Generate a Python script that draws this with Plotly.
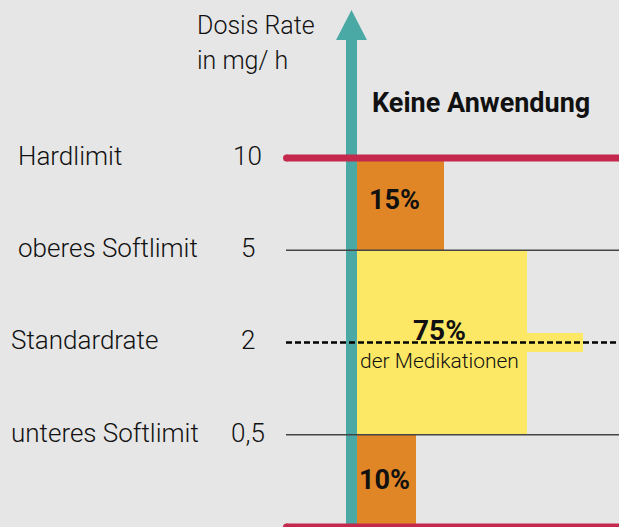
import plotly.graph_objects as go

# ---------------- data ----------------
level_names = ["Hardlimit", "oberes Softlimit", "Standardrate", "unteres Softlimit"]
level_values = ["10", "5", "2", "0,5"]
level_index = [4, 3, 2, 1]          # evenly spaced rate levels (0 = bottom limit)
hard_limits = [4, 0]                # red hard-limit lines
soft_limits = [3, 1]                # thin soft-limit lines
standard_level = 2                  # dashed standard rate

band_labels = ["15%", "75%", "10%"]
band_low = [3, 1, 0]
band_high = [4, 3, 1]
band_length = [33.2, 64.9, 22.5]
band_colors = ["#e08627", "#fde865", "#e08627"]

std_highlight_start = 64.9
std_highlight_end = 86.3
std_highlight_height = 0.21

# ---------------- styles ----------------
BG = "#e6e6e6"
TEAL = "#4aa9a4"
RED = "#c4284c"
W, H = 619, 527
XMIN, XMAX = -136.26, 100.0
YMIN, YMAX = 0.0, 5.712
FONT = "Roboto, 'Liberation Sans', Arial, sans-serif"

def px_x(px):
    return px / W

def px_y(py):
    return 1 - py / H

fig = go.Figure()

# bands
for lab, lo, hi, ln, col in zip(band_labels, band_low, band_high, band_length, band_colors):
    fig.add_trace(go.Bar(
        orientation="h", y=[(lo + hi) / 2], x=[ln], width=[hi - lo], base=0,
        marker=dict(color=col, line=dict(width=0)), hoverinfo="skip", showlegend=False))

# standard-rate highlight
fig.add_trace(go.Bar(
    orientation="h", y=[standard_level], x=[std_highlight_end - std_highlight_start],
    base=std_highlight_start, width=[std_highlight_height],
    marker=dict(color="#fde865", line=dict(width=0)), hoverinfo="skip", showlegend=False))

line_start = -26.9
# soft limits
for lv in soft_limits:
    fig.add_trace(go.Scatter(x=[-27.1, XMAX], y=[lv, lv], mode="lines",
                             line=dict(color="#454545", width=1.5),
                             hoverinfo="skip", showlegend=False))
# standard rate dashed
fig.add_trace(go.Scatter(x=[-27.1, XMAX], y=[standard_level] * 2, mode="lines",
                         line=dict(color="#000000", width=2.4, dash="6px,3px"),
                         hoverinfo="skip", showlegend=False))
# hard limits
for lv in hard_limits:
    fig.add_trace(go.Scatter(x=[line_start, XMAX], y=[lv, lv], mode="lines",
                             line=dict(color=RED, width=7),
                             hoverinfo="skip", showlegend=False))
    fig.add_trace(go.Scatter(x=[line_start], y=[lv], mode="markers",
                             marker=dict(color=RED, size=7, line=dict(width=0)),
                             hoverinfo="skip", showlegend=False))

# teal arrow (axis)
shaft_x = -2.1
head_base = 5.279
head_tip = 5.604
shapes = [
    dict(type="line", xref="x", yref="y", x0=shaft_x, x1=shaft_x, y0=YMIN - 0.1, y1=head_base + 0.01,
         line=dict(color=TEAL, width=11), layer="below"),
    dict(type="path", xref="x", yref="y",
         path=f"M -8.0,{head_base} L 3.8,{head_base} L {shaft_x},{head_tip} Z",
         fillcolor=TEAL, line=dict(width=0), layer="below"),
]

ann = []
def text(t, x, y, size, xanchor="left", bold=False, yshift=0):
    ann.append(dict(text=f"<b>{t}</b>" if bold else t, x=px_x(x), y=px_y(y),
                    xref="paper", yref="paper", xanchor=xanchor, yanchor="middle",
                    showarrow=False, yshift=yshift,
                    font=dict(family=FONT, size=size, color="#111111",
                              weight=700 if bold else 300)))

text("Dosis Rate", 195, 25.3, 25)
text("in mg/ h", 195, 60.3, 25)
text("Keine Anwendung", 370, 103.3, 27, bold=True)

left_x = [16, 16, 9, 9]
for name, val, idx, lx in zip(level_names, level_values, level_index, left_x):
    ann.append(dict(text=name, x=px_x(lx), y=idx, xref="paper", yref="y",
                    xanchor="left", yanchor="middle", showarrow=False, yshift=2,
                    font=dict(family=FONT, size=26, color="#111111", weight=300)))
    ann.append(dict(text=val, x=px_x(247.5), y=idx, xref="paper", yref="y",
                    xanchor="center", yanchor="middle", showarrow=False, yshift=2,
                    font=dict(family=FONT, size=26, color="#111111", weight=300)))

text(band_labels[0], 394, 200, 27, xanchor="center", bold=True)
text(band_labels[1], 439.5, 330, 28, xanchor="center", bold=True)
text("der Medikationen", 439.5, 361, 21, xanchor="center")
text(band_labels[2], 384.5, 479.5, 27, xanchor="center", bold=True)

fig.update_layout(
    width=W, height=H, margin=dict(l=0, r=0, t=0, b=0),
    paper_bgcolor=BG, plot_bgcolor=BG, barmode="overlay", bargap=0,
    xaxis=dict(range=[XMIN, XMAX], visible=False, fixedrange=True),
    yaxis=dict(range=[YMIN, YMAX], visible=False, fixedrange=True),
    shapes=shapes, annotations=ann, showlegend=False,
)

fig.write_html("out.html", config={"displayModeBar": False},
               post_script="document.body.style.margin='0';document.body.style.background='#e6e6e6';")
